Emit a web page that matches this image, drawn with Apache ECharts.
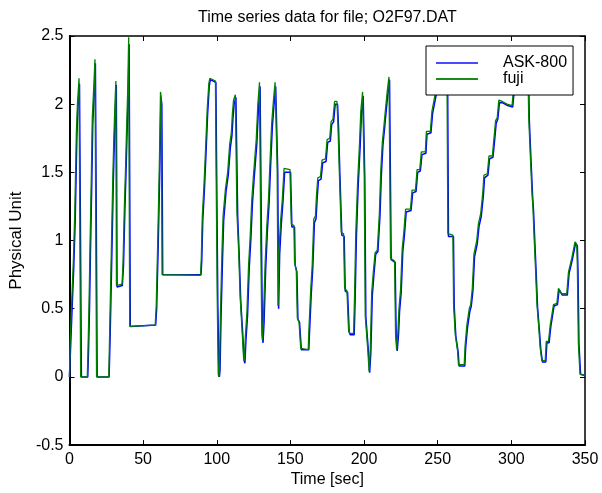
<!DOCTYPE html>
<html>
<head>
<meta charset="utf-8">
<script src="https://cdn.jsdelivr.net/npm/echarts@6/dist/echarts.min.js"></script>
<style>html,body{margin:0;padding:0;background:#fff}#c{width:602px;height:493px}</style>
</head>
<body>
<div id="c"></div>
<script>
const titleText = 'Time series data for file; O2F97.DAT';
const xName = 'Time [sec]';
const yName = 'Physical Unit';
const seriesNames = ['ASK-800', 'fuji'];
const xTicks = [0, 50, 100, 150, 200, 250, 300, 350];
const yTicks = [-0.5, 0, 0.5, 1, 1.5, 2, 2.5];

const askData = [[0,0],[0.5,0],[0.7,0.2],[1.6,0.45],[2.9,0.8],[3.9,1.15],[5.0,1.75],[5.7,1.98],[6.8,2.15],[7.5,2.15],[8.1,0],[12.4,0],[12.9,0.18],[13.6,0.5],[14.3,0.95],[15.1,1.4],[15.8,1.85],[16.9,2.12],[17.6,2.3],[18.1,2.3],[18.8,0],[26.9,0],[27.5,0.25],[28.2,0.6],[28.8,0.92],[29.7,1.4],[30.4,1.7],[31.1,1.95],[31.8,2.14],[32.3,0.66],[35.9,0.67],[36.7,0.82],[37.6,1.22],[38.3,1.47],[39.0,1.75],[39.9,2.08],[40.5,2.44],[41.3,0.37],[58.5,0.38],[59.2,0.5],[60.1,0.9],[60.8,1.25],[61.4,1.57],[62.1,2.05],[62.7,2.0],[63.3,0.75],[89.3,0.75],[89.8,0.85],[90.5,1.15],[91.6,1.37],[92.7,1.64],[93.8,1.93],[94.9,2.13],[95.6,2.18],[99.4,2.16],[100.0,1.4],[100.7,0.55],[101.4,0.03],[101.8,0.0],[102.2,0.05],[102.9,0.44],[104.0,0.9],[104.7,1.15],[106.3,1.36],[107.8,1.48],[109.2,1.68],[110.3,1.77],[111.0,1.9],[111.8,2.0],[113.0,2.05],[113.7,2.04],[114.2,1.18],[115.2,0.9],[116.3,0.55],[117.5,0.34],[118.6,0.12],[119.1,0.1],[119.8,0.27],[120.9,0.45],[122.0,0.79],[123.1,1.0],[124.2,1.27],[125.4,1.46],[127.2,1.71],[128.3,1.97],[129.4,2.13],[129.9,2.13],[130.4,0.95],[131.0,0.3],[131.4,0.25],[132.1,0.4],[133.2,0.79],[134.4,1.08],[135.5,1.27],[136.6,1.56],[137.7,1.83],[138.9,2.0],[140.0,2.13],[140.9,2.13],[141.4,1.5],[142.0,0.5],[142.4,0.5],[142.7,0.9],[143.8,1.12],[144.9,1.28],[146.1,1.5],[150.1,1.5],[151.0,1.1],[152.8,1.1],[153.2,0.82],[154.4,0.77],[155.1,0.42],[156.2,0.4],[157.4,0.2],[162.5,0.2],[162.9,0.31],[164.1,0.6],[165.2,0.8],[166.3,1.13],[167.4,1.16],[168.1,1.3],[169.0,1.44],[170.8,1.45],[171.9,1.57],[174.2,1.58],[175.3,1.72],[177.1,1.73],[178.0,1.85],[179.3,1.87],[180.4,2.0],[182.0,2.0],[182.7,1.82],[183.6,1.48],[184.9,1.04],[186.5,1.03],[187.2,0.63],[188.8,0.62],[189.9,0.33],[190.6,0.31],[193.3,0.31],[193.9,0.55],[194.8,1.03],[196.0,1.4],[197.3,1.68],[198.2,1.92],[199.4,2.06],[200.1,2.05],[200.5,1.45],[201.2,0.44],[202.3,0.43],[203.0,0.18],[203.8,0.03],[204.6,0.18],[205.6,0.6],[206.7,0.75],[207.9,0.9],[209.4,0.92],[210.8,1.18],[211.7,1.47],[212.8,1.7],[213.9,1.82],[215.1,1.96],[216.2,2.08],[217.3,2.18],[218.0,2.19],[218.4,0.86],[219.5,0.85],[221.1,0.84],[221.8,0.3],[222.5,0.19],[223.4,0.31],[224.1,0.48],[225.2,0.62],[226.3,0.92],[227.4,1.04],[228.6,1.21],[231.9,1.22],[233.0,1.35],[235.3,1.36],[236.4,1.5],[238.2,1.51],[239.3,1.63],[242.0,1.64],[242.7,1.78],[245.4,1.79],[246.5,1.93],[248.8,2.06],[249.9,2.13],[251.9,2.2],[256.7,2.24],[257.3,1.03],[260.7,1.03],[261.2,0.52],[262.3,0.3],[263.4,0.29],[263.9,0.18],[264.5,0.08],[268.4,0.08],[269.0,0.22],[270.2,0.36],[271.8,0.48],[272.8,0.52],[273.9,0.63],[275.0,0.88],[276.9,0.98],[278.0,1.1],[279.6,1.18],[281.0,1.33],[281.8,1.46],[284.1,1.48],[285.2,1.6],[287.5,1.61],[288.6,1.73],[289.7,1.86],[290.8,1.89],[291.9,2.01],[294.2,2.01],[297.5,1.99],[300.9,1.98],[301.6,2.06],[303.4,2.16],[306.4,2.23],[309.4,2.27],[311.6,2.29],[312.2,1.88],[313.3,1.6],[314.4,1.33],[315.1,1.21],[316.0,0.97],[316.7,0.8],[317.8,0.51],[318.9,0.36],[320.0,0.2],[321.1,0.11],[323.4,0.11],[324.1,0.25],[325.6,0.25],[326.8,0.37],[327.9,0.38],[329.0,0.52],[331.3,0.53],[332.4,0.64],[333.5,0.65],[334.6,0.6],[338.0,0.6],[339.2,0.76],[340.3,0.81],[341.4,0.86],[342.5,0.86],[343.6,0.98],[344.8,0.96],[345.2,0.8],[345.9,0.24],[347.0,0.02],[350,0.01]];

const fujiData = [[0,0],[0.3,0],[0.45,0.25],[1.35,0.5],[2.7,0.87],[3.6,1.2],[4.7,1.8],[5.4,2.0],[6.5,2.19],[7.2,2.19],[7.6,0],[12.1,0],[12.6,0.2],[13.3,0.55],[14.0,0.98],[14.8,1.44],[15.5,1.9],[16.6,2.15],[17.3,2.33],[17.8,2.33],[18.4,0],[26.7,0],[27.2,0.28],[27.9,0.65],[28.5,0.96],[29.4,1.45],[30.1,1.74],[30.8,1.98],[31.5,2.17],[31.9,0.67],[35.7,0.68],[36.4,0.85],[37.3,1.26],[38.0,1.5],[38.7,1.79],[39.6,2.12],[40.2,2.49],[40.9,0.37],[58.2,0.38],[58.9,0.52],[59.8,0.93],[60.5,1.28],[61.1,1.6],[61.8,2.09],[62.3,2.05],[62.9,0.75],[89.0,0.745],[89.5,0.87],[90.2,1.18],[91.3,1.4],[92.4,1.67],[93.5,1.96],[94.6,2.15],[95.3,2.19],[99.1,2.17],[99.6,1.47],[100.3,0.6],[101.0,0.02],[101.4,0.0],[101.8,0.05],[102.5,0.46],[103.6,0.94],[104.3,1.18],[105.9,1.38],[107.4,1.5],[108.8,1.71],[109.9,1.79],[110.6,1.93],[111.4,2.03],[112.6,2.07],[113.3,2.06],[113.7,1.2],[114.8,0.94],[115.9,0.58],[117.1,0.36],[118.2,0.14],[118.7,0.12],[119.4,0.29],[120.5,0.48],[121.6,0.82],[122.7,1.03],[123.8,1.3],[125.0,1.49],[126.8,1.74],[127.9,2.0],[129.0,2.16],[129.5,2.16],[129.9,1.0],[130.6,0.33],[131.0,0.27],[131.7,0.43],[132.8,0.82],[134.0,1.11],[135.1,1.3],[136.2,1.59],[137.3,1.86],[138.5,2.03],[139.6,2.16],[140.5,2.16],[141.0,1.54],[141.6,0.52],[142.0,0.52],[142.3,0.94],[143.4,1.15],[144.5,1.3],[145.7,1.53],[149.7,1.52],[150.6,1.12],[152.4,1.11],[152.8,0.84],[154.0,0.78],[154.7,0.43],[155.8,0.41],[157.0,0.21],[162.1,0.2],[162.5,0.33],[163.7,0.62],[164.8,0.82],[165.9,1.16],[167.0,1.18],[167.7,1.33],[168.6,1.46],[170.4,1.47],[171.5,1.59],[173.8,1.6],[174.9,1.74],[176.7,1.75],[177.6,1.87],[178.9,1.89],[180.0,2.02],[181.6,2.02],[182.3,1.84],[183.2,1.51],[184.5,1.06],[186.1,1.05],[186.8,0.65],[188.4,0.63],[189.5,0.34],[190.2,0.32],[192.9,0.32],[193.5,0.57],[194.4,1.06],[195.6,1.42],[196.9,1.71],[197.8,1.95],[199.0,2.09],[199.7,2.08],[200.1,1.5],[200.8,0.45],[201.9,0.44],[202.6,0.19],[203.4,0.04],[204.2,0.19],[205.2,0.62],[206.3,0.77],[207.5,0.91],[209.0,0.93],[210.4,1.2],[211.3,1.5],[212.4,1.72],[213.5,1.84],[214.7,1.98],[215.8,2.1],[216.9,2.2],[217.6,2.21],[218.0,0.87],[219.1,0.86],[220.7,0.85],[221.4,0.31],[222.1,0.2],[223.0,0.33],[223.7,0.5],[224.8,0.64],[225.9,0.94],[227.0,1.06],[228.2,1.23],[231.5,1.23],[232.6,1.37],[234.9,1.37],[236.0,1.52],[237.8,1.52],[238.9,1.65],[241.6,1.65],[242.3,1.8],[245.0,1.8],[246.1,1.95],[248.4,2.08],[249.5,2.15],[251.5,2.22],[256.3,2.25],[256.9,1.05],[260.3,1.04],[260.8,0.53],[261.9,0.31],[263.0,0.3],[263.5,0.19],[264.1,0.09],[268.0,0.09],[268.6,0.23],[269.8,0.38],[271.4,0.5],[272.4,0.53],[273.5,0.65],[274.6,0.9],[276.5,1.0],[277.6,1.12],[279.2,1.2],[280.6,1.35],[281.4,1.48],[283.7,1.49],[284.8,1.62],[287.1,1.62],[288.2,1.75],[289.3,1.88],[290.4,1.9],[291.5,2.03],[293.8,2.02],[297.1,2.0],[300.5,1.99],[301.2,2.08],[303.0,2.18],[306.0,2.25],[309.0,2.28],[311.2,2.3],[311.8,1.9],[312.9,1.62],[314.0,1.35],[314.7,1.23],[315.6,0.99],[316.3,0.82],[317.4,0.53],[318.5,0.38],[319.6,0.21],[320.7,0.12],[323.0,0.12],[323.7,0.26],[325.2,0.26],[326.4,0.38],[327.5,0.39],[328.6,0.53],[330.9,0.54],[332.0,0.65],[333.1,0.66],[334.2,0.61],[337.6,0.61],[338.8,0.77],[339.9,0.82],[341.0,0.87],[342.1,0.87],[343.2,0.99],[344.4,0.97],[344.8,0.82],[345.5,0.25],[346.6,0.02],[350,0.01]];

const FONT = 'Liberation Sans, Arial, Helvetica, sans-serif';
const chart = echarts.init(document.getElementById('c'), null, {renderer: 'canvas'});

function xAxisDef(pos, showLabel, w) {
  return {
    type: 'value', position: pos, min: xTicks[0], max: xTicks[xTicks.length - 1],
    interval: xTicks[1] - xTicks[0],
    axisLine: {show: true, onZero: false, lineStyle: {color: '#000', width: w}},
    axisTick: {show: true, inside: true, length: 5, lineStyle: {color: '#000', width: 1}},
    axisLabel: {show: showLabel, color: '#000', fontSize: 16, fontFamily: FONT, margin: 6},
    splitLine: {show: false},
    name: showLabel ? xName : '', nameLocation: 'middle', nameGap: 25,
    nameTextStyle: {color: '#000', fontSize: 16, fontFamily: FONT}
  };
}
function yAxisDef(pos, showLabel, w) {
  return {
    type: 'value', position: pos, min: yTicks[0], max: yTicks[yTicks.length - 1],
    interval: yTicks[1] - yTicks[0],
    axisLine: {show: true, onZero: false, lineStyle: {color: '#000', width: w}},
    axisTick: {show: true, inside: true, length: 5, lineStyle: {color: '#000', width: 1}},
    axisLabel: {show: showLabel, color: '#000', fontSize: 16, fontFamily: FONT, margin: 6},
    splitLine: {show: false},
    name: showLabel ? yName : '', nameLocation: 'middle', nameGap: 38, nameRotate: 90,
    nameTextStyle: {color: '#000', fontSize: 17, fontFamily: FONT}
  };
}

chart.setOption({
  animation: false,
  backgroundColor: '#fff',
  title: {
    text: titleText, left: 198, top: 10, padding: 0,
    textStyle: {color: '#000', fontSize: 16, fontWeight: 'normal', fontFamily: FONT}
  },
  grid: {left: 66, right: 17, top: 36, bottom: 44, containLabel: false},
  legend: {
    data: seriesNames, orient: 'vertical', left: 426, top: 46,
    icon: 'rect', itemWidth: 42, itemHeight: 2, itemGap: 0,
    padding: [9, 6, 8, 10],
    backgroundColor: '#fff', borderColor: '#000', borderWidth: 1,
    textStyle: {color: '#000', fontSize: 16, lineHeight: 15, fontFamily: FONT, padding: [0, 0, 0, 20]}
  },
  xAxis: [xAxisDef('bottom', true, 2), xAxisDef('top', false, 1.5)],
  yAxis: [yAxisDef('left', true, 2), yAxisDef('right', false, 1.5)],
  series: [
    {name: seriesNames[0], type: 'line', data: askData, symbol: 'none', xAxisIndex: 0, yAxisIndex: 0,
     lineStyle: {color: '#0000ff', width: 1.5}, itemStyle: {color: '#4a4aff'}, z: 2},
    {name: seriesNames[1], type: 'line', data: fujiData, symbol: 'none', xAxisIndex: 0, yAxisIndex: 0,
     lineStyle: {color: '#008000', width: 1.3}, itemStyle: {color: '#1a8a1a'}, z: 3}
  ]
});
</script>
</body>
</html>
